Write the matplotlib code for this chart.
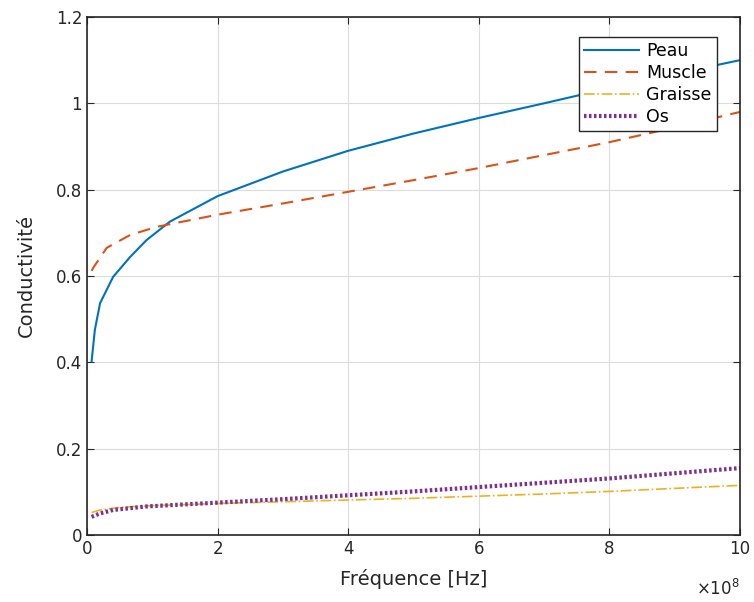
import numpy as np
import matplotlib.pyplot as plt
from matplotlib.ticker import FuncFormatter

# conductivity vs frequency for the four tissues
freq_peau = [7e6, 1.2e7, 2e7, 4e7, 6.6e7, 9.1e7, 1.27e8, 2e8, 3e8, 4e8, 5e8, 6e8, 7e8, 8e8, 9e8, 1e9]
peau = [0.402, 0.475, 0.537, 0.598, 0.644, 0.683, 0.726, 0.785, 0.842, 0.890, 0.930, 0.966, 1.000, 1.035, 1.068, 1.100]

freq_muscle = [7e6, 1e7, 3e7, 6.6e7, 1.07e8, 2e8, 3e8, 4e8, 5e8, 6e8, 7e8, 8e8, 9e8, 1e9]
muscle = [0.612, 0.620, 0.665, 0.695, 0.714, 0.742, 0.768, 0.795, 0.822, 0.850, 0.880, 0.910, 0.944, 0.980]

freq_graisse = [7e6, 2e7, 5e7, 1e8, 2e8, 3e8, 4e8, 5e8, 6e8, 7e8, 8e8, 9e8, 1e9]
graisse = [0.052, 0.058, 0.064, 0.068, 0.073, 0.077, 0.081, 0.085, 0.090, 0.095, 0.101, 0.108, 0.115]

freq_os = [7e6, 2e7, 4e7, 9e7, 2e8, 3e8, 4e8, 5e8, 6e8, 7e8, 8e8, 9e8, 1e9]
os_ = [0.042, 0.050, 0.058, 0.066, 0.075, 0.083, 0.092, 0.101, 0.111, 0.121, 0.131, 0.143, 0.155]

fig = plt.figure(figsize=(7.54, 6.02), dpi=100)
ax = fig.add_axes([0.1154, 0.1113, 0.866, 0.8605])

ax.plot(freq_peau, peau, color='#0072BD', lw=1.5, label='Peau')
ax.plot(freq_muscle, muscle, color='#D95319', lw=1.5, ls=(0, (6, 4)), label='Muscle')
ax.plot(freq_graisse, graisse, color='#EDB120', lw=1.2, ls='-.', label='Graisse')
ax.plot(freq_os, os_, color='#7E2F8E', lw=3, ls=(0, (0.6, 0.6)), label='Os')

ax.set_xlim(0, 1e9)
ax.set_ylim(0, 1.2)
ax.set_xticks(np.arange(0, 1.01e9, 2e8))
ax.set_yticks(np.arange(0, 1.21, 0.2))
ax.xaxis.set_major_formatter(FuncFormatter(lambda v, _: f"{v / 1e8:g}"))
ax.yaxis.set_major_formatter(FuncFormatter(lambda v, _: f"{v:g}"))
ax.grid(True, color='#dcdcdc', lw=0.8)
ax.set_axisbelow(True)
ax.tick_params(direction='in', length=5, labelsize=12, colors='#262626', top=True, right=True)
for s in ax.spines.values():
    s.set_color('#262626')
    s.set_linewidth(1.2)

ax.set_xlabel('Fréquence [Hz]', fontsize=14, color='#262626', labelpad=8)
ax.set_ylabel('Conductivité', fontsize=14, color='#262626', labelpad=14)
ax.text(1.0, -0.085, r'$\times10^{8}$', transform=ax.transAxes, ha='right', va='top',
        fontsize=12, color='#262626')

leg = ax.legend(loc='upper right', bbox_to_anchor=(0.978, 0.978), fontsize=12.5,
                frameon=True, fancybox=False, framealpha=1, handlelength=3.2, borderpad=0.3,
                labelspacing=0.22, handletextpad=0.4)
leg.get_frame().set_edgecolor('#262626')
leg.get_frame().set_linewidth(1.0)

fig.savefig('out.png', dpi=100)
